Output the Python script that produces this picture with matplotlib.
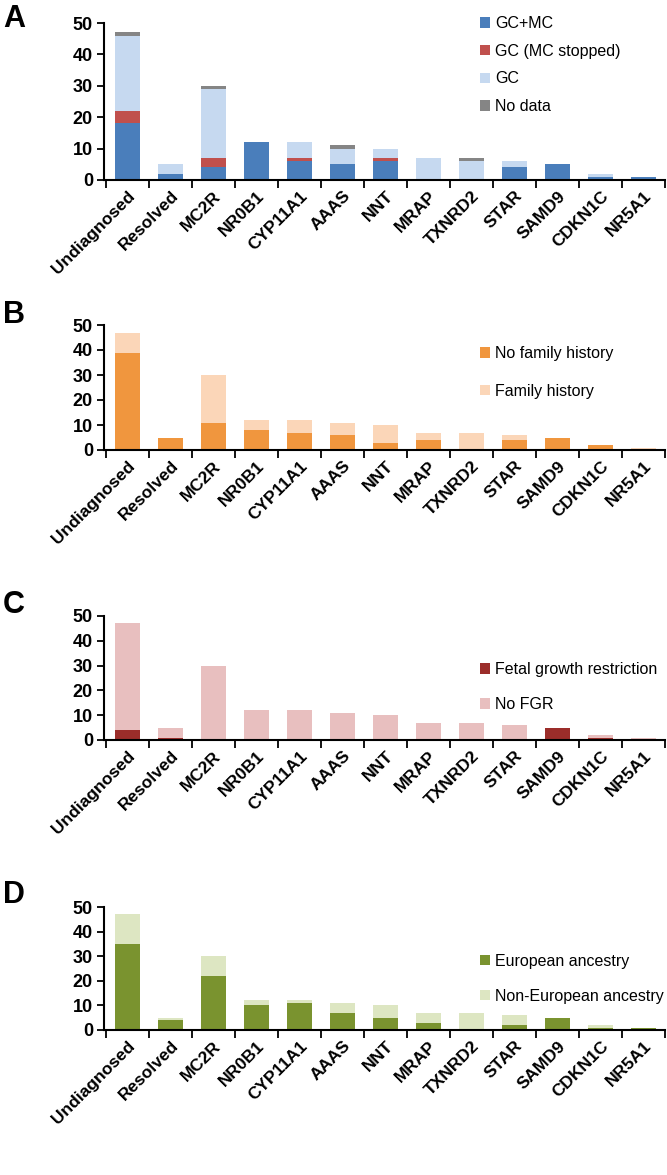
import numpy as np
import matplotlib
matplotlib.use("Agg")
import matplotlib.pyplot as plt

plt.rcParams["font.family"] = ["Liberation Sans Narrow", "Liberation Sans", "DejaVu Sans"]

CATEGORIES = ["Undiagnosed", "Resolved", "MC2R", "NR0B1", "CYP11A1", "AAAS", "NNT",
              "MRAP", "TXNRD2", "STAR", "SAMD9", "CDKN1C", "NR5A1"]

# Panel A: treatment
GC_MC = [18, 2, 4, 12, 6, 5, 6, 0, 0, 4, 5, 1, 1]
GC_MC_STOPPED = [4, 0, 3, 0, 1, 0, 1, 0, 0, 0, 0, 0, 0]
GC_ONLY = [24, 3, 22, 0, 5, 5, 3, 7, 6, 2, 0, 1, 0]
NO_DATA = [1, 0, 1, 0, 0, 1, 0, 0, 1, 0, 0, 0, 0]

# Panel B: family history
NO_FAMILY_HISTORY = [39, 5, 11, 8, 7, 6, 3, 4, 0, 4, 5, 2, 0]
FAMILY_HISTORY = [8, 0, 19, 4, 5, 5, 7, 3, 7, 2, 0, 0, 1]

# Panel C: fetal growth restriction
FGR = [4, 1, 0, 0, 0, 0, 0, 0, 0, 0, 5, 1, 0]
NO_FGR = [43, 4, 30, 12, 12, 11, 10, 7, 7, 6, 0, 1, 1]

# Panel D: ancestry
EUROPEAN = [35, 4, 22, 10, 11, 7, 5, 3, 0, 2, 5, 1, 1]
NON_EUROPEAN = [12, 1, 8, 2, 1, 4, 5, 4, 7, 4, 0, 1, 0]

W, H = 667, 1175
fig = plt.figure(figsize=(W / 100, H / 100), dpi=100)


def make_axes(top_px, bottom_px):
    left, right = 104, 665
    return fig.add_axes([left / W, 1 - bottom_px / H, (right - left) / W, (bottom_px - top_px) / H])


def stacked(ax, series, labels, colors, legend_anchor, spacing):
    x = np.arange(len(CATEGORIES))
    bottom = np.zeros(len(CATEGORIES))
    for vals, lab, col in zip(series, labels, colors):
        vals = np.array(vals, dtype=float)
        nz = vals > 0
        ax.bar(x[nz], vals[nz], width=0.58, bottom=bottom[nz], color=col, label=lab, linewidth=0)
        bottom += vals
    ax.set_xlim(-0.55, len(CATEGORIES) - 0.5)
    ax.set_ylim(0, 50)
    ax.set_yticks([0, 10, 20, 30, 40, 50])
    ax.set_yticklabels(["0", "10", "20", "30", "40", "50"], fontsize=13, fontweight="bold")
    ax.set_xticks(x)
    ax.set_xticklabels(CATEGORIES, rotation=45, ha="right", rotation_mode="anchor",
                       fontsize=12.5, fontweight="bold")
    ax.tick_params(axis="x", length=0, pad=6)
    ax.set_xticks(np.arange(len(CATEGORIES) + 1) - 0.5, minor=True)
    ax.tick_params(axis="x", which="minor", length=6, width=1.3, direction="out")
    ax.tick_params(axis="y", length=5, width=1.3, direction="out", pad=3)
    for s in ["top", "right"]:
        ax.spines[s].set_visible(False)
    for s in ["left", "bottom"]:
        ax.spines[s].set_linewidth(1.5)
    ax.legend(loc="upper left", bbox_to_anchor=legend_anchor, frameon=False, fontsize=11.5,
              handlelength=0.65, handleheight=0.65, handletextpad=0.3, labelspacing=spacing,
              borderaxespad=0, borderpad=0)


axA = make_axes(23, 180)
stacked(axA, [GC_MC, GC_MC_STOPPED, GC_ONLY, NO_DATA],
        ["GC+MC", "GC (MC stopped)", "GC", "No data"],
        ["#4a7ebb", "#c0504d", "#c6d9f0", "#858585"], (0.67, 1.045), 0.8)

axB = make_axes(325, 450)
stacked(axB, [NO_FAMILY_HISTORY, FAMILY_HISTORY],
        ["No family history", "Family history"],
        ["#f0963e", "#fbd6b8"], (0.67, 0.83), 1.4)

axC = make_axes(616, 740)
stacked(axC, [FGR, NO_FGR],
        ["Fetal growth restriction", "No FGR"],
        ["#9b2d2a", "#e8bfbf"], (0.67, 0.63), 1.25)

axD = make_axes(907, 1030)
stacked(axD, [EUROPEAN, NON_EUROPEAN],
        ["European ancestry", "Non-European ancestry"],
        ["#7a932f", "#dde6c2"], (0.67, 0.62), 1.25)

for letter, ypx in [("A", 4), ("B", 300), ("C", 590), ("D", 880)]:
    fig.text(3 / W, 1 - ypx / H, letter, fontsize=22, fontweight="bold",
             family=["Liberation Sans", "DejaVu Sans"], va="top", ha="left")

fig.savefig("out.png", dpi=100, facecolor="white")
